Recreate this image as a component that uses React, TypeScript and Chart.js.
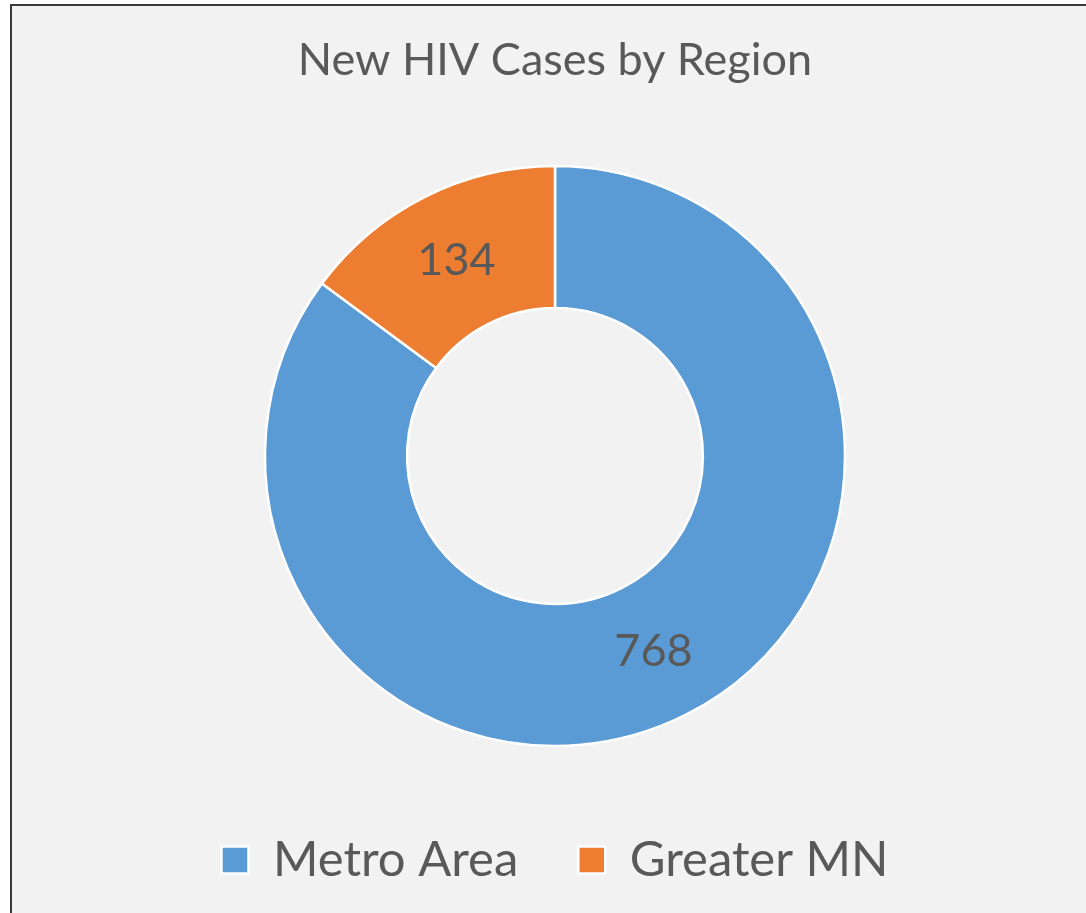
import React, { useEffect, useRef } from "react";
import { Chart, registerables } from "chart.js";

Chart.register(...registerables);

const categories = ["Metro Area", "Greater MN"];
const caseCounts = [768, 134];
const sliceColors = ["#5B9BD5", "#ED7D31"];
const chartTitle = "New HIV Cases by Region";

const FONT = "Lato, 'Open Sans', sans-serif";
const TEXT = "#595959";

const framePlugin = {
  id: "frame",
  beforeDraw(chart: any) {
    const { ctx, width, height } = chart;
    ctx.save();
    ctx.fillStyle = "#ffffff";
    ctx.fillRect(0, 0, width, height);
    ctx.fillStyle = "#f2f2f2";
    ctx.fillRect(11, 5, width, height);
    ctx.strokeStyle = "#3a3a3a";
    ctx.lineWidth = 2;
    ctx.strokeRect(11, 5, width + 20, height + 20);
    ctx.restore();
  },
};

const valueLabels = {
  id: "valueLabels",
  afterDatasetsDraw(chart: any) {
    const { ctx } = chart;
    const meta = chart.getDatasetMeta(0);
    const values = chart.data.datasets[0].data;
    ctx.save();
    ctx.fillStyle = TEXT;
    ctx.font = `45px ${FONT}`;
    ctx.textAlign = "center";
    ctx.textBaseline = "middle";
    meta.data.forEach((arc: any, i: number) => {
      const p = arc.getCenterPoint();
      ctx.fillText(String(values[i]), p.x, p.y);
    });
    ctx.restore();
  },
};

export default function App() {
  const ref = useRef<HTMLCanvasElement | null>(null);
  useEffect(() => {
    if (!ref.current) return;
    const chart = new Chart(ref.current, {
      type: "doughnut",
      data: {
        labels: categories,
        datasets: [
          {
            data: caseCounts,
            backgroundColor: sliceColors,
            borderColor: "#ffffff",
            borderWidth: 2.5,
          },
        ],
      },
      options: {
        animation: false,
        responsive: false,
        radius: 290,
        cutout: "51%",
        layout: { padding: { left: 24, right: 0, top: 0, bottom: 18.5 } },
        plugins: {
          title: {
            display: true,
            text: chartTitle,
            color: TEXT,
            font: { family: FONT, size: 45, weight: "normal", lineHeight: 1.2 },
            padding: { top: 33, bottom: 79 },
          },
          legend: {
            display: true,
            position: "bottom",
            title: {
              display: true,
              text: " ",
              font: { size: 10, lineHeight: 1 },
              padding: { top: 19.5, bottom: 0 },
            },
            labels: {
              color: TEXT,
              font: { family: FONT, size: 49 },
              boxWidth: 27,
              boxHeight: 27,
              padding: 60,
            },
          },
          tooltip: { enabled: false },
        },
      },
      plugins: [framePlugin, valueLabels],
    });
    return () => chart.destroy();
  }, []);
  return (
    <canvas
      ref={ref}
      width={1086}
      height={913}
      style={{ position: "fixed", left: 0, top: 0, width: 1086, height: 913 }}
    />
  );
}
